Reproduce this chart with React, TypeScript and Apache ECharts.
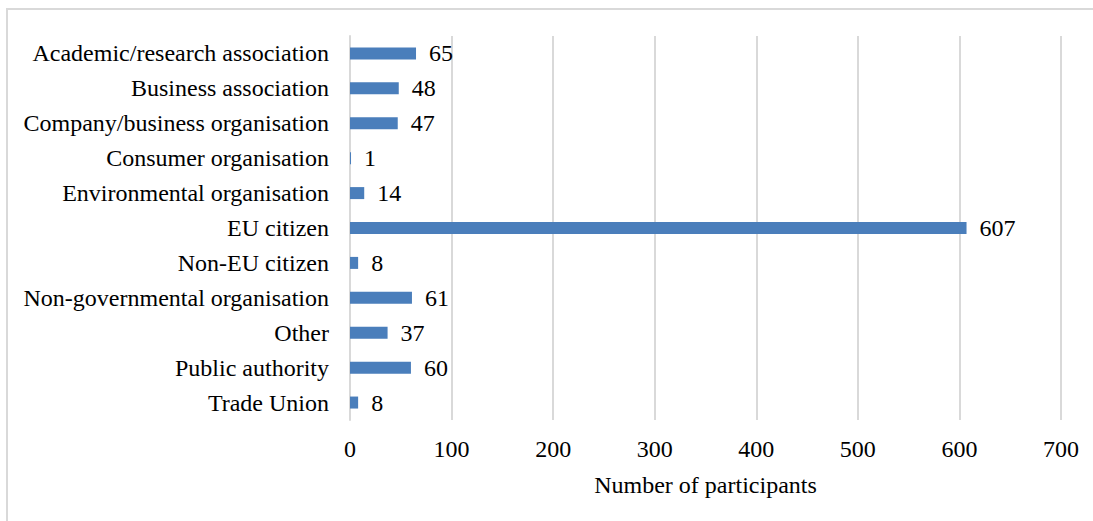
import React, { useEffect, useRef } from "react";
import * as echarts from "echarts";

const categories = [
  "Academic/research association",
  "Business association",
  "Company/business organisation",
  "Consumer organisation",
  "Environmental organisation",
  "EU citizen",
  "Non-EU citizen",
  "Non-governmental organisation",
  "Other",
  "Public authority",
  "Trade Union",
];
const values = [65, 48, 47, 1, 14, 607, 8, 61, 37, 60, 8];
const xTicks = [0, 100, 200, 300, 400, 500, 600, 700];
const xAxisName = "Number of participants";

const FONT = "'Liberation Serif', 'Times New Roman', serif";
const FS = 24;

export default function App() {
  const ref = useRef<HTMLDivElement>(null);
  useEffect(() => {
    if (!ref.current) return;
    const chart = echarts.init(ref.current, undefined, { renderer: "svg" });
    chart.setOption({
      animation: false,
      backgroundColor: "#ffffff",
      textStyle: { fontFamily: FONT },
      graphic: [
        { type: "rect", shape: { x: 6, y: 8, width: 2, height: 513 }, style: { fill: "#d9d9d9" }, silent: true },
        { type: "rect", shape: { x: 6, y: 8, width: 1087, height: 2 }, style: { fill: "#d9d9d9" }, silent: true },
      ],
      grid: { left: 350, right: 32, top: 36, bottom: 101, containLabel: false },
      xAxis: {
        type: "value",
        min: xTicks[0],
        max: xTicks[xTicks.length - 1],
        interval: 100,
        name: xAxisName,
        nameLocation: "middle",
        nameGap: 53,
        nameTextStyle: { fontFamily: FONT, fontSize: FS, color: "#000" },
        axisLine: { show: false },
        axisTick: { show: false },
        axisLabel: { fontFamily: FONT, fontSize: FS, color: "#000", margin: 17 },
        splitLine: { show: true, lineStyle: { color: "#d9d9d9", width: 2 } },
      },
      yAxis: {
        type: "category",
        data: categories,
        inverse: true,
        axisLine: { show: true, lineStyle: { color: "#d9d9d9", width: 2 } },
        axisTick: { show: false },
        axisLabel: { fontFamily: FONT, fontSize: FS, color: "#000", margin: 21 },
      },
      series: [
        {
          type: "bar",
          data: values,
          barWidth: 12,
          itemStyle: { color: "#4a7ebb" },
          label: {
            show: true,
            position: "right",
            distance: 13,
            fontFamily: FONT,
            fontSize: FS,
            color: "#000",
          },
        },
      ],
    });
    return () => chart.dispose();
  }, []);
  return (
    <div
      ref={ref}
      style={{ position: "absolute", left: 0, top: 0, width: 1093, height: 521, background: "#fff" }}
    />
  );
}
